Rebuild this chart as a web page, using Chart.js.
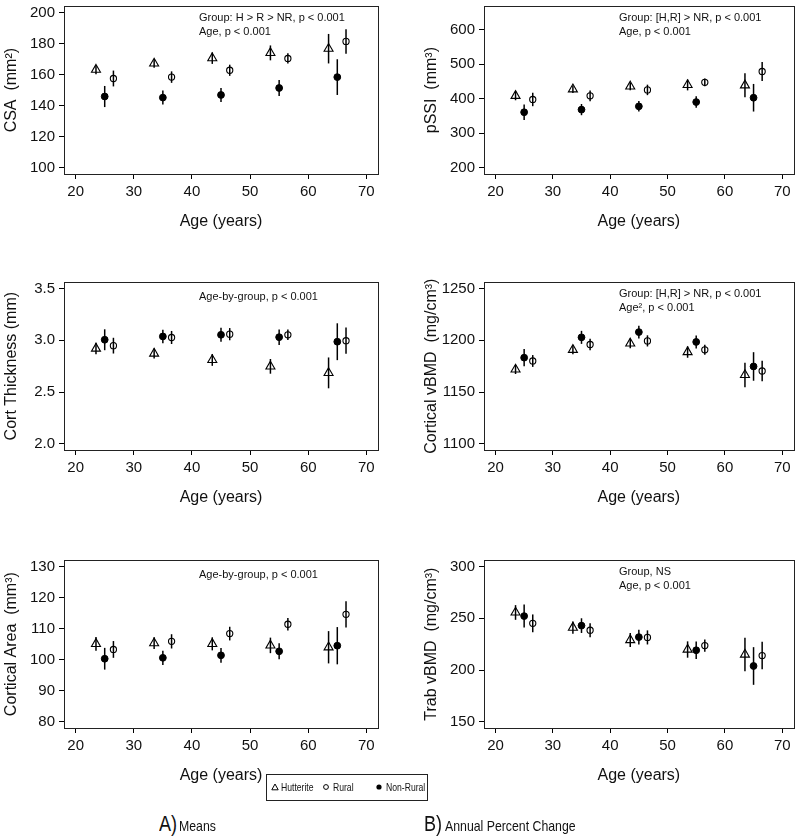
<!DOCTYPE html>
<html>
<head>
<meta charset="utf-8">
<script src="https://cdn.jsdelivr.net/npm/chart.js@4.4.1/dist/chart.umd.min.js"></script>
<style>
  body { margin: 0; background: #fff; width: 800px; height: 839px; position: relative; overflow: hidden; font-family: "Liberation Sans", Arial, sans-serif; color: #111; }
  canvas { position: absolute; }
  .legend { position: absolute; left: 266px; top: 774px; width: 160px; height: 25px; border: 1px solid #222; font-size: 10.5px; }
  .legend span, .cap { position: absolute; white-space: nowrap; transform: scaleX(0.82); transform-origin: 0 50%; }
  .legend span { top: 6px; }
  .legend svg { position: absolute; top: 8px; }
</style>
</head>
<body>
<canvas id="csa" width="400" height="236" style="left:0;top:0"></canvas>
<canvas id="pssi" width="400" height="236" style="left:400px;top:0"></canvas>
<canvas id="cth" width="400" height="236" style="left:0;top:276px"></canvas>
<canvas id="cbmd" width="400" height="236" style="left:400px;top:276px"></canvas>
<canvas id="carea" width="400" height="236" style="left:0;top:554px"></canvas>
<canvas id="tbmd" width="400" height="236" style="left:400px;top:554px"></canvas>

<div class="legend">
  <svg width="8" height="8" style="left:4px"><polygon points="4,1 7.2,6.8 0.8,6.8" fill="none" stroke="#000" stroke-width="1"/></svg>
  <span style="left:14px">Hutterite</span>
  <svg width="8" height="8" style="left:55px"><circle cx="4" cy="4" r="2.4" fill="none" stroke="#000" stroke-width="1"/></svg>
  <span style="left:66px">Rural</span>
  <svg width="8" height="8" style="left:108px"><circle cx="4" cy="4" r="2.6" fill="#000"/></svg>
  <span style="left:119px">Non-Rural</span>
</div>
<div class="cap" style="left:159px;top:811px;font-size:22px">A)</div>
<div class="cap" style="left:179px;top:817px;font-size:15px">Means</div>
<div class="cap" style="left:424px;top:811px;font-size:22px">B)</div>
<div class="cap" style="left:445px;top:817px;font-size:15px">Annual Percent Change</div>

<script>
// age groups (Non-Rural plotted at the age, Hutterite left, Rural right)
const ages = [25, 35, 45, 55, 65];
const ageTicks = [20, 30, 40, 50, 60, 70];
const dodge = 1.5;

// CSA (mm2)
const csaHut = [163.2, 167.2, 170.6, 174.0, 176.7];
const csaHutSe = [2.9, 2.8, 3.7, 4.8, 9.5];
const csaRur = [157.5, 158.4, 162.8, 170.4, 181.4];
const csaRurSe = [5.1, 3.7, 3.6, 3.3, 7.9];
const csaNon = [145.9, 145.2, 146.9, 151.4, 158.4];
const csaNonSe = [6.8, 4.5, 4.5, 5.2, 11.5];
const csaTicks = [100, 120, 140, 160, 180, 200];

// pSSI (mm3)
const pssiHut = [408.6, 427.6, 436.0, 440.0, 439.0];
const pssiHutSe = [12.9, 11.0, 11.0, 15.7, 34.8];
const pssiRur = [398.0, 408.6, 425.7, 447.6, 479.0];
const pssiRurSe = [19.5, 15.7, 15.2, 11.4, 27.6];
const pssiNon = [361.0, 368.6, 378.0, 390.5, 403.0];
const pssiNonSe = [22.4, 16.2, 15.2, 16.7, 40.0];
const pssiTicks = [200, 300, 400, 500, 600];

// Cort Thickness (mm)
const cthHut = [2.92, 2.872, 2.81, 2.748, 2.685];
const cthHutSe = [0.055, 0.048, 0.057, 0.071, 0.149];
const cthRur = [2.948, 3.027, 3.059, 3.053, 2.996];
const cthRurSe = [0.076, 0.063, 0.059, 0.051, 0.127];
const cthNon = [3.005, 3.037, 3.053, 3.03, 2.986];
const cthNonSe = [0.101, 0.065, 0.067, 0.075, 0.178];
const cthTicks = [2.0, 2.5, 3.0, 3.5];

// Cortical vBMD (mg/cm3)
const cbmdHut = [1171.8, 1190.8, 1197.0, 1188.6, 1166.5];
const cbmdHutSe = [4.4, 4.4, 4.7, 5.5, 11.9];
const cbmdRur = [1180.0, 1195.9, 1199.4, 1190.8, 1170.3];
const cbmdRurSe = [5.7, 5.5, 5.4, 4.9, 9.8];
const cbmdNon = [1183.2, 1202.8, 1207.9, 1198.4, 1174.7];
const cbmdNonSe = [8.4, 6.3, 6.2, 6.3, 13.8];
const cbmdTicks = [1100, 1150, 1200, 1250];

// Cortical Area (mm3)
const careaHut = [105.1, 105.3, 105.1, 104.6, 104.0];
const careaHutSe = [2.2, 1.9, 2.1, 2.5, 5.2];
const careaRur = [103.3, 105.9, 108.4, 111.4, 114.6];
const careaRurSe = [2.7, 2.3, 2.2, 2.0, 4.2];
const careaNon = [100.3, 100.6, 101.4, 102.7, 104.5];
const careaNonSe = [3.5, 2.3, 2.4, 2.6, 6.0];
const careaTicks = [80, 90, 100, 110, 120, 130];

// Trab vBMD (mg/cm3)
const tbmdHut = [255.6, 241.0, 229.0, 219.8, 215.0];
const tbmdHutSe = [7.1, 5.9, 6.7, 7.9, 16.2];
const tbmdRur = [245.1, 238.5, 231.5, 223.6, 214.0];
const tbmdRurSe = [8.6, 6.8, 6.8, 5.9, 13.2];
const tbmdNon = [252.1, 242.9, 231.8, 219.1, 203.9];
const tbmdNonSe = [11.1, 7.1, 7.1, 8.4, 18.2];
const tbmdTicks = [150, 200, 250, 300];

const font = '"Liberation Sans", Arial, sans-serif';
const ink = '#111';

// vertical error bars, drawn from each dataset's se array through the scales
const errorBars = {
  id: 'errorBars',
  beforeDatasetsDraw(chart) {
    const c = chart.ctx;
    const xs = chart.scales.x, ys = chart.scales.y;
    c.save();
    c.strokeStyle = '#000';
    c.lineWidth = 1.5;
    chart.data.datasets.forEach(ds => {
      ds.data.forEach((p, i) => {
        const px = xs.getPixelForValue(p.x);
        c.beginPath();
        c.moveTo(px, ys.getPixelForValue(p.y - ds.se[i]));
        c.lineTo(px, ys.getPixelForValue(p.y + ds.se[i]));
        c.stroke();
      });
    });
    c.restore();
  }
};

// frame around the plot, the y title and the statistics note
const frameNotes = {
  id: 'frameNotes',
  afterDraw(chart, args, opts) {
    const a = chart.chartArea;
    const c = chart.ctx;
    c.save();
    c.strokeStyle = '#222';
    c.lineWidth = 1;
    c.strokeRect(Math.round(a.left) + 0.5, Math.round(a.top) + 0.5, Math.round(a.right - a.left), Math.round(a.bottom - a.top));
    c.fillStyle = ink;
    c.font = '11px ' + font;
    c.textBaseline = 'middle';
    const lines = opts.lines || [];
    const y0 = lines.length > 1 ? 12 : 15;
    lines.forEach((t, i) => c.fillText(t, a.left + 135, a.top + y0 + i * 14));
    // y axis title
    c.translate(a.left - 52, (a.top + a.bottom) / 2);
    c.rotate(-Math.PI / 2);
    c.font = '16px ' + font;
    c.textAlign = 'center';
    c.fillText(opts.yTitle, 0, 0);
    c.restore();
  }
};

function makePanel(p) {
  const series = [
    { label: 'Hutterite', y: p.hut, se: p.hutSe, dx: -dodge, style: 'triangle', fill: 'rgba(0,0,0,0)', r: 5.2, bw: 1.1 },
    { label: 'Rural', y: p.rur, se: p.rurSe, dx: dodge, style: 'circle', fill: 'rgba(0,0,0,0)', r: 3.1, bw: 1.1 },
    { label: 'Non-Rural', y: p.non, se: p.nonSe, dx: 0, style: 'circle', fill: '#000', r: 3.4, bw: 1 }
  ];
  const left = p.col === 0;
  new Chart(document.getElementById(p.id), {
    type: 'scatter',
    data: {
      datasets: series.map(s => ({
        label: s.label,
        data: ages.map((a, i) => ({ x: a + s.dx, y: s.y[i] })),
        se: s.se,
        pointStyle: s.style,
        pointRadius: s.r,
        pointBackgroundColor: s.fill,
        pointBorderColor: '#000',
        pointBorderWidth: s.bw
      }))
    },
    options: {
      responsive: false,
      animation: false,
      layout: { padding: { top: 3, right: left ? 22 : 3, left: 0, bottom: 0 } },
      plugins: { legend: { display: false }, tooltip: { enabled: false }, frameNotes: { lines: p.notes, yTitle: p.title } },
      scales: {
        x: {
          type: 'linear', min: 18, max: 72,
          afterBuildTicks: s => { s.ticks = ageTicks.map(v => ({ value: v })); },
          afterFit: s => { s.height = 62; s.paddingLeft = 0; s.paddingRight = 0; },
          grid: { drawOnChartArea: false, tickLength: 5, tickColor: '#000', tickWidth: 1 },
          border: { display: true, color: '#222' },
          ticks: { color: ink, font: { size: 15, family: font }, padding: 4, maxRotation: 0, autoSkip: false },
          title: { display: true, text: 'Age (years)', color: ink, font: { size: 16, family: font }, padding: { top: 0, bottom: 5 } }
        },
        y: {
          type: 'linear', min: p.min, max: p.max,
          afterBuildTicks: s => { s.ticks = p.ticks.map(v => ({ value: v })); },
          afterFit: s => { s.width = left ? 64 : 84; s.paddingTop = 0; s.paddingBottom = 0; },
          grid: { drawOnChartArea: false, tickLength: 5, tickColor: '#000', tickWidth: 1 },
          border: { display: true, color: '#222' },
          ticks: { color: ink, font: { size: 15, family: font }, padding: 4, autoSkip: false, callback: v => v.toFixed(p.dec) }
        }
      }
    },
    plugins: [errorBars, frameNotes]
  });
}

makePanel({ id: 'csa', col: 0, title: 'CSA  (mm²)', min: 96, max: 204, ticks: csaTicks, dec: 0,
  hut: csaHut, hutSe: csaHutSe, rur: csaRur, rurSe: csaRurSe, non: csaNon, nonSe: csaNonSe,
  notes: ['Group: H > R > NR, p < 0.001', 'Age, p < 0.001'] });
makePanel({ id: 'pssi', col: 1, title: 'pSSI  (mm³)', min: 182, max: 668, ticks: pssiTicks, dec: 0,
  hut: pssiHut, hutSe: pssiHutSe, rur: pssiRur, rurSe: pssiRurSe, non: pssiNon, nonSe: pssiNonSe,
  notes: ['Group: [H,R] > NR, p < 0.001', 'Age, p < 0.001'] });
makePanel({ id: 'cth', col: 0, title: 'Cort Thickness (mm)', min: 1.94, max: 3.56, ticks: cthTicks, dec: 1,
  hut: cthHut, hutSe: cthHutSe, rur: cthRur, rurSe: cthRurSe, non: cthNon, nonSe: cthNonSe,
  notes: ['Age-by-group, p < 0.001'] });
makePanel({ id: 'cbmd', col: 1, title: 'Cortical vBMD  (mg/cm³)', min: 1094, max: 1256, ticks: cbmdTicks, dec: 0,
  hut: cbmdHut, hutSe: cbmdHutSe, rur: cbmdRur, rurSe: cbmdRurSe, non: cbmdNon, nonSe: cbmdNonSe,
  notes: ['Group: [H,R] > NR, p < 0.001', 'Age², p < 0.001'] });
makePanel({ id: 'carea', col: 0, title: 'Cortical Area  (mm³)', min: 78, max: 132, ticks: careaTicks, dec: 0,
  hut: careaHut, hutSe: careaHutSe, rur: careaRur, rurSe: careaRurSe, non: careaNon, nonSe: careaNonSe,
  notes: ['Age-by-group, p < 0.001'] });
makePanel({ id: 'tbmd', col: 1, title: 'Trab vBMD  (mg/cm³)', min: 144, max: 306, ticks: tbmdTicks, dec: 0,
  hut: tbmdHut, hutSe: tbmdHutSe, rur: tbmdRur, rurSe: tbmdRurSe, non: tbmdNon, nonSe: tbmdNonSe,
  notes: ['Group, NS', 'Age, p < 0.001'] });
</script>
</body>
</html>
